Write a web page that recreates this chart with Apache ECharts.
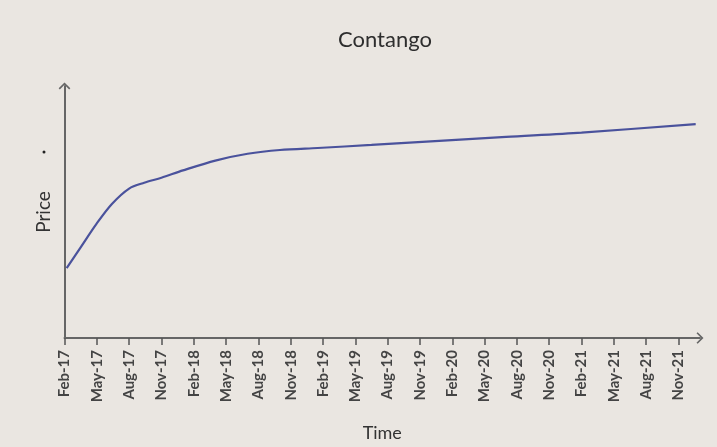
<!DOCTYPE html>
<html>
<head>
<meta charset="utf-8">
<script src="https://cdn.jsdelivr.net/npm/echarts@6/dist/echarts.min.js"></script>
<style>
html,body{margin:0;padding:0;background:#eae6e1;}
#c{width:717px;height:447px;}
</style>
</head>
<body>
<div id="c"></div>
<script>
// Tick labels (quarterly)
const tickLabels = ['Feb-17','May-17','Aug-17','Nov-17','Feb-18','May-18','Aug-18','Nov-18','Feb-19','May-19','Aug-19','Nov-19','Feb-20','May-20','Aug-20','Nov-20','Feb-21','May-21','Aug-21','Nov-21'];
// Tick positions in months since Feb-17
const tickMonths = [0,3,6,9,12,15,18,21,24,27,30,33,36,39,42,45,48,51,54,57];
// Curve points: months since Feb-17, and price (arbitrary units)
const curveMonths = [0.2, 1.5, 3, 4.4, 6, 7.4, 9, 11, 14, 17, 20, 23.5, 28.5, 34, 41, 48, 58.6];
const curvePrice  = [27.7, 36.0, 45.5, 53.2, 59.3, 61.6, 63.6, 66.5, 70.4, 73.1, 74.6, 75.4, 76.6, 78.0, 79.8, 81.5, 84.9];

const chevron = 'path://M0,10 L10,0 L20,10 L18,12 L10,4 L2,12 Z';
const font = 'Lato, "Open Sans", sans-serif';

const chart = echarts.init(document.getElementById('c'));
chart.setOption({
  backgroundColor: '#eae6e1',
  animation: false,
  title: {
    text: 'Contango',
    left: 380, top: 24, textAlign: 'center',
    textStyle: {fontFamily: font, fontSize: 22, fontWeight: 'normal', color: '#2e2e2e'}
  },
  grid: {left: 64.5, right: 17, top: 86, bottom: 101, containLabel: false},
  xAxis: {
    type: 'value', min: 0, max: 59,
    name: 'Time', nameLocation: 'middle', nameGap: 86,
    nameTextStyle: {fontFamily: font, fontSize: 18, color: '#333'},
    axisLine: {show: true, symbol: ['none', chevron], symbolSize: [12, 7], lineStyle: {color: '#666', width: 2}},
    axisTick: {show: true, length: 7, customValues: tickMonths, lineStyle: {color: '#555', width: 1.5}},
    axisLabel: {
      customValues: tickMonths, rotate: 90, margin: 12,
      fontFamily: font, fontSize: 15, fontWeight: 'bold', color: '#444',
      formatter: function (v) { const i = tickMonths.indexOf(v); return i >= 0 ? tickLabels[i] : ''; }
    },
    splitLine: {show: false}
  },
  yAxis: {
    type: 'value', min: 0, max: 100,
    name: 'Price', nameLocation: 'middle', nameGap: 11,
    nameTextStyle: {fontFamily: font, fontSize: 19, color: '#333'},
    axisLine: {show: true, symbol: ['none', chevron], symbolSize: [12, 7], lineStyle: {color: '#666', width: 2}},
    axisTick: {show: false},
    axisLabel: {show: false},
    splitLine: {show: false}
  },
  graphic: [{type: 'circle', shape: {cx: 44, cy: 152, r: 1.5}, style: {fill: '#222'}}],
  series: [{
    type: 'line',
    data: curveMonths.map((m, i) => [m, curvePrice[i]]),
    smooth: 0.3,
    showSymbol: false,
    lineStyle: {color: '#4a529c', width: 2.2}
  }]
});
</script>
</body>
</html>
